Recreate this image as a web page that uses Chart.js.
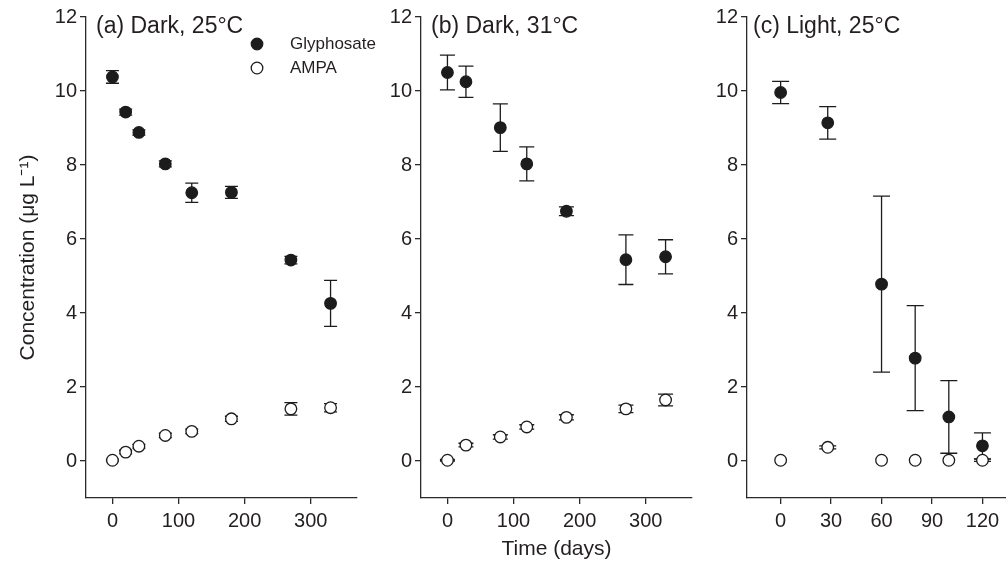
<!DOCTYPE html>
<html>
<head>
<meta charset="utf-8">
<script src="https://cdn.jsdelivr.net/npm/chart.js"></script>
<style>
html,body{margin:0;padding:0;background:#fff;}
body{width:1006px;height:562px;position:relative;overflow:hidden;}
.panel{position:absolute;top:0;height:562px;}
</style>
</head>
<body>
<div class="panel" style="left:0;width:385px"><canvas id="chartA"></canvas></div>
<div class="panel" style="left:370px;width:335px"><canvas id="chartB"></canvas></div>
<div class="panel" style="left:700px;width:306px"><canvas id="chartC"></canvas></div>
<script>
// --- data (days, concentration in µg/L, +/- error) ---
const daysA = [0, 20, 40, 80, 120, 180, 270, 330];
const glyA = [10.38, 9.43, 8.88, 8.03, 7.25, 7.26, 5.43, 4.26];
const glyAErr = [0.17, 0.08, 0.07, 0.08, 0.26, 0.16, 0.10, 0.62];
const ampaA = [0.02, 0.24, 0.40, 0.69, 0.80, 1.14, 1.41, 1.44];
const ampaAErr = [0.02, 0.05, 0.05, 0.06, 0.06, 0.07, 0.17, 0.11];

const daysB = [0, 28, 80, 120, 180, 270, 330];
const glyB = [10.50, 10.25, 9.01, 8.03, 6.75, 5.44, 5.52];
const glyBErr = [0.47, 0.42, 0.64, 0.46, 0.12, 0.67, 0.46];
const ampaB = [0.02, 0.43, 0.65, 0.92, 1.18, 1.41, 1.65];
const ampaBErr = [0.02, 0.05, 0.06, 0.06, 0.07, 0.10, 0.16];

const daysC = [0, 28, 60, 80, 100, 120];
const glyC = [9.96, 9.14, 4.78, 2.78, 1.19, 0.41];
const glyCErr = [0.30, 0.44, 2.38, 1.42, 0.98, 0.35];
const ampaC = [0.02, 0.37, 0.02, 0.02, 0.02, 0.02];
const ampaCErr = [0, 0.04, 0, 0, 0, 0.03];

const yTicks = [0, 2, 4, 6, 8, 10, 12];
const xTicksAB = [0, 100, 200, 300];
const xTicksC = [0, 30, 60, 90, 120];

const seriesNames = ['Glyphosate', 'AMPA'];
const panelTitles = ['(a) Dark, 25\u00B0C', '(b) Dark, 31\u00B0C', '(c) Light, 25\u00B0C'];

const textCol = '#231f20';
const axisCol = '#2a2a2a';
const markCol = '#1c1c1c';
const FONT = '"Liberation Sans", Arial, Helvetica, sans-serif';
Chart.defaults.font.family = FONT;
Chart.defaults.color = textCol;

function pts(xs, ys){ return xs.map((x,i)=>({x:x, y:ys[i]})); }

// error bars drawn under the markers so open circles cover the stem
const errorBars = {
  id:'errorBars',
  beforeDatasetsDraw(chart, args, opts){
    const ctx = chart.ctx, ys = chart.scales.y;
    chart.data.datasets.forEach((ds,i)=>{
      if(!ds.errors) return;
      const meta = chart.getDatasetMeta(i);
      meta.data.forEach((pt,j)=>{
        const e = ds.errors[j];
        if(!e) return;
        const v = ds.data[j].y;
        const t = ys.getPixelForValue(v+e), b = ys.getPixelForValue(v-e);
        const c = opts.cap || 7;
        ctx.save();
        ctx.strokeStyle = markCol; ctx.lineWidth = 1.3;
        ctx.beginPath();
        ctx.moveTo(pt.x, t); ctx.lineTo(pt.x, b);
        ctx.moveTo(pt.x-c, t); ctx.lineTo(pt.x+c, t);
        ctx.moveTo(pt.x-c, b); ctx.lineTo(pt.x+c, b);
        ctx.stroke();
        ctx.restore();
      });
    });
  }
};

// panel label and (panel a only) the legend
const panelDecor = {
  id:'panelDecor',
  afterDraw(chart, args, opts){
    const ctx = chart.ctx, ca = chart.chartArea;
    ctx.save();
    ctx.fillStyle = textCol;
    ctx.textBaseline = 'middle';
    ctx.font = '23px ' + FONT;
    ctx.fillText(opts.label, ca.left + opts.dx, ca.top + 10);
    if(opts.legend){
      ctx.font = '17px ' + FONT;
      chart.data.datasets.forEach((ds,i)=>{
        const ly = ca.top + 27 + i*24;
        ctx.fillStyle = ds.backgroundColor; ctx.strokeStyle = ds.borderColor; ctx.lineWidth = ds.borderWidth;
        ctx.beginPath(); ctx.arc(ca.left + 171, ly, ds.pointRadius, 0, Math.PI*2); ctx.fill(); ctx.stroke();
        ctx.fillStyle = textCol;
        ctx.fillText(ds.label, ca.left + 204, ly);
      });
    }
    ctx.restore();
  }
};

function makePanel(id, p){
  const ctx = document.getElementById(id).getContext('2d');
  return new Chart(ctx, {
    type:'scatter',
    data:{datasets:[
      {label:seriesNames[0], data:pts(p.days, p.gly), errors:p.glyErr, pointRadius:5.8, backgroundColor:markCol, borderColor:markCol, borderWidth:1.2},
      {label:seriesNames[1], data:pts(p.days, p.ampa), errors:p.ampaErr, pointRadius:5.8, backgroundColor:'#ffffff', borderColor:markCol, borderWidth:1.3}
    ]},
    options:{
      responsive:true, maintainAspectRatio:false, animation:false, events:[],
      // no automatic padding for point size, the plot areas are placed by hand
      layout:{autoPadding:false, padding:{top:17, right:p.padRight, bottom:0, left:0}},
      plugins:{
        legend:{display:false}, tooltip:{enabled:false},
        errorBars:{cap:p.cap},
        panelDecor:{label:p.title, dx:p.titleDx, legend:!!p.legend}
      },
      scales:{
        x:{type:'linear', min:p.xMin, max:p.xMax,
          afterBuildTicks:s=>{ s.ticks = p.xTicks.map(v=>({value:v})); },
          afterFit:s=>{ s.height = 64; s.paddingLeft = 0; s.paddingRight = 0; },
          grid:{display:true, drawOnChartArea:false, drawTicks:true, tickLength:6, color:axisCol, lineWidth:1.3},
          border:{display:true, color:axisCol, width:1.3},
          ticks:{color:textCol, font:{size:20}, padding:5, maxRotation:0, autoSkip:false},
          title:{display:!!p.xTitle, text:p.xTitle||'', color:textCol, font:{size:21}, padding:{top:0, bottom:0}}
        },
        y:{type:'linear', min:-1, max:12,
          afterBuildTicks:s=>{ s.ticks = yTicks.map(v=>({value:v})); },
          afterFit:s=>{ s.width = p.yWidth; s.paddingTop = 0; s.paddingBottom = 0; },
          grid:{display:true, drawOnChartArea:false, drawTicks:true, tickLength:6, color:axisCol, lineWidth:1.3},
          border:{display:true, color:axisCol, width:1.3},
          ticks:{color:textCol, font:{size:20}, padding:3},
          title:{display:!!p.yTitle, text:p.yTitle||'', color:textCol, font:{size:21}, padding:{top:16, bottom:0}}
        }
      }
    },
    plugins:[errorBars, panelDecor]
  });
}

makePanel('chartA', {days:daysA, gly:glyA, glyErr:glyAErr, ampa:ampaA, ampaErr:ampaAErr,
  xMin:-40, xMax:370, xTicks:xTicksAB, yWidth:86, padRight:28, cap:6.5,
  title:panelTitles[0], titleDx:10, legend:true, yTitle:'Concentration (\u03BCg L\u207B\u00B9)'});
makePanel('chartB', {days:daysB, gly:glyB, glyErr:glyBErr, ampa:ampaB, ampaErr:ampaBErr,
  xMin:-40, xMax:370, xTicks:xTicksAB, yWidth:51, padRight:13, cap:7.5,
  title:panelTitles[1], titleDx:10, xTitle:'Time (days)'});
makePanel('chartC', {days:daysC, gly:glyC, glyErr:glyCErr, ampa:ampaC, ampaErr:ampaCErr,
  xMin:-20, xMax:134, xTicks:xTicksC, yWidth:47, padRight:0, cap:8.5,
  title:panelTitles[2], titleDx:6});
</script>
</body>
</html>
